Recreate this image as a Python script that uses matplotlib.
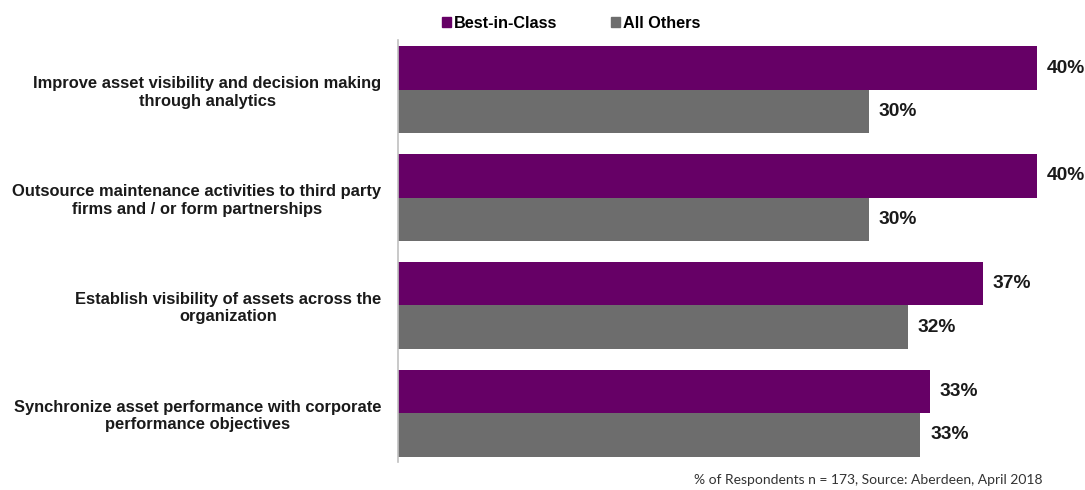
import numpy as np
import matplotlib.pyplot as plt
from matplotlib.patches import Patch

# ==========================================================
# DATA
# ==========================================================
categories = [
    "Improve asset visibility and decision making\nthrough analytics",
    "Outsource maintenance activities to third party\nfirms and / or form partnerships",
    "Establish visibility of assets across the\norganization",
    "Synchronize asset performance with corporate\nperformance objectives",
]
best_in_class = [40.0, 40.0, 36.6, 33.3]
all_others = [29.5, 29.5, 31.9, 32.7]
series_names = ["Best-in-Class", "All Others"]
footnote = "% of Respondents n = 173, Source: Aberdeen, April 2018"

purple = "#660066"
gray = "#6d6d6d"

# ==========================================================
# PLOT
# ==========================================================
fig = plt.figure(figsize=(10.85, 4.9), dpi=100)
ax = fig.add_axes([398 / 1085, 28 / 490, 687 / 1085, 422 / 490])

y = np.arange(len(categories))
h = 0.404
ax.barh(y - h / 2, best_in_class, height=h, color=purple, label=series_names[0])
ax.barh(y + h / 2, all_others, height=h, color=gray, label=series_names[1])

for i in range(len(categories)):
    ax.text(best_in_class[i] + 0.6, y[i] - h / 2, f"{best_in_class[i]:.0f}%",
            va="center", ha="left", fontsize=13.8, fontweight="bold",
            family="Liberation Sans", color="#1a1a1a")
    ax.text(all_others[i] + 0.6, y[i] + h / 2, f"{all_others[i]:.0f}%",
            va="center", ha="left", fontsize=13.8, fontweight="bold",
            family="Liberation Sans", color="#1a1a1a")

ax.set_xlim(0, 43.0)
ax.set_ylim(3.455, -0.464)
ax.set_yticks(y)
ax.set_yticklabels(categories, fontsize=11.9, fontweight="bold",
                   family="Liberation Sans", multialignment="center",
                   color="#1a1a1a")
ax.tick_params(axis="y", length=0, pad=12)
ax.set_xticks([])

for s in ["top", "right", "bottom"]:
    ax.spines[s].set_visible(False)
ax.spines["left"].set_color("#c0c0c0")
ax.spines["left"].set_linewidth(1.2)

handles = [Patch(color=purple), Patch(color=gray)]
ax.legend(handles, series_names, loc="center", bbox_to_anchor=(0.252, 1.04),
          ncol=2, frameon=False, handlelength=0.55, handleheight=0.55,
          handletextpad=0.2, columnspacing=3.3,
          prop={"family": "Liberation Sans", "weight": "bold", "size": 11.7})

fig.text(1043 / 1085, 1 - 480 / 490, footnote, ha="right", va="center",
         fontsize=10, family="Lato", color="#333333")

plt.savefig("out.png", dpi=100)
